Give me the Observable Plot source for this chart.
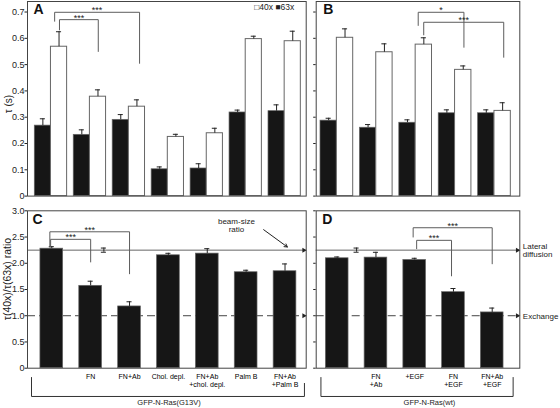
<!DOCTYPE html>
<html><head><meta charset="utf-8">
<script src="https://cdn.jsdelivr.net/npm/d3@7"></script>
<script src="https://cdn.jsdelivr.net/npm/@observablehq/plot@0.6"></script>
<style>
body{margin:0;background:#fff;}
#fig{position:relative;width:560px;height:408px;overflow:hidden;background:#fff;}
#fig>div{position:absolute;}
#fig svg{overflow:visible;display:block;}
</style></head><body>
<div id="fig">
  <div id="pA" style="left:0;top:0"></div>
  <div id="pB" style="left:310px;top:0"></div>
  <div id="pC" style="left:0;top:200px"></div>
  <div id="pD" style="left:310px;top:200px"></div>
</div>
<script>
// ---------- data ----------
const categoriesG13V = ["", "FN", "FN+Ab", "Chol. depl.", "FN+Ab\n+chol. depl.", "Palm B", "FN+Ab\n+Palm B"];
const categoriesWt = ["", "FN\n+Ab", "+EGF", "FN\n+EGF", "FN+Ab\n+EGF"];
const groupG13V = "GFP-N-Ras(G13V)";
const groupWt = "GFP-N-Ras(wt)";

// Panel A: tau (s) for GFP-N-Ras(G13V)
const tau63G13V    = [0.268, 0.233, 0.290, 0.102, 0.105, 0.318, 0.323];
const tau63G13VErr = [0.026, 0.019, 0.020, 0.009, 0.018, 0.009, 0.024];
const tau40G13V    = [0.568, 0.378, 0.340, 0.225, 0.239, 0.597, 0.589];
const tau40G13VErr = [0.057, 0.026, 0.026, 0.010, 0.019, 0.011, 0.038];

// Panel B: tau (s) for GFP-N-Ras(wt)
const tau63Wt    = [0.287, 0.260, 0.279, 0.315, 0.315];
const tau63WtErr = [0.009, 0.012, 0.011, 0.013, 0.013];
const tau40Wt    = [0.602, 0.547, 0.576, 0.480, 0.324];
const tau40WtErr = [0.034, 0.032, 0.026, 0.015, 0.031];

// Panel C / D: tau(40x)/tau(63x) ratio
const ratioG13V    = [2.278, 1.570, 1.177, 2.152, 2.184, 1.829, 1.848];
const ratioG13VErr = [0.038, 0.088, 0.089, 0.038, 0.094, 0.038, 0.139];
const ratioWt      = [2.095, 2.108, 2.063, 1.449, 1.063];
const ratioWtErr   = [0.025, 0.101, 0.032, 0.070, 0.083];

const beamRatio = 2.25, beamRatioErr = 0.04, exchangeRatio = 1.0;

const tauTicks = [0, 0.1, 0.2, 0.3, 0.4, 0.5, 0.6, 0.7];
const ratioTicks = [0, 0.5, 1.0, 1.5, 2.0, 2.5, 3.0];
const legendText = "\u25A140x \u25A063x";

// significance brackets (x in bar-slot units, y in value units)
const bracketsA = [
  {x1: 0.51, x2: 2.69, top: 0.699, y1: 0.665, y2: 0.505, label: "***"},
  {x1: 0.634, x2: 1.63, top: 0.671, y1: 0.632, y2: 0.550, label: "***"}
];
const bracketsB = [
  {x1: 2.48, x2: 3.64, top: 0.699, y1: 0.649, y2: 0.566, label: "*"},
  {x1: 2.62, x2: 4.65, top: 0.661, y1: 0.613, y2: 0.528, label: "***"}
];
const bracketsC = [
  {x1: -0.05, x2: 2.0, top: 2.60, y1: 2.31, y2: 1.80, label: "***"},
  {x1: -0.03, x2: 1.0, top: 2.456, y1: 2.31, y2: 2.025, label: "***"}
];
const bracketsD = [
  {x1: 1.96, x2: 4.0, top: 2.677, y1: 2.50, y2: 1.99, label: "***"},
  {x1: 2.05, x2: 2.95, top: 2.437, y1: 2.278, y2: 1.76, label: "***"}
];

// ---------- rendering ----------
const FONT = '"Liberation Sans", Arial, Helvetica, sans-serif';
const BLACK = "#161616", EDGE = "#666", INK = "#222", GRAY = "#5c5c5c", FRAME = "#444";
const TAU_BW = 0.415, RATIO_BW = 0.585, CAP = 0.065;
const fmt1 = d => d === 0 ? "0" : d3.format(".1f")(d);
const noText = () => "";

const bracketPoints = bs => bs.flatMap((b, k) => [
  {id: k, x: b.x1, y: b.y1}, {id: k, x: b.x1, y: b.top},
  {id: k, x: b.x2, y: b.top}, {id: k, x: b.x2, y: b.y2}
]);

function errMarks(rows, xAcc, vKey, eKey) {
  return [
    Plot.ruleX(rows, {x: xAcc, y1: vKey, y2: d => d[vKey] + d[eKey], stroke: INK, strokeWidth: 1}),
    Plot.ruleY(rows, {y: d => d[vKey] + d[eKey], x1: d => xAcc(d) - CAP, x2: d => xAcc(d) + CAP, stroke: INK, strokeWidth: 1})
  ];
}

function tauPanel(p) {
  const rows = p.cats.map((c, i) => ({i, v63: p.v63[i], e63: p.e63[i], v40: p.v40[i], e40: p.e40[i]}));
  const c63 = d => d.i + TAU_BW / 2, c40 = d => d.i + 1.5 * TAU_BW;
  return Plot.plot({
    width: p.width, height: 200,
    marginLeft: p.ml, marginRight: p.mr, marginTop: 1, marginBottom: 4.4,
    x: {type: "linear", domain: p.xDomain, axis: null},
    y: {type: "linear", domain: [0, 0.74]},
    style: {fontFamily: FONT, fontSize: "9px", background: "none", color: INK, overflow: "visible"},
    marks: [
      Plot.rect(rows, {x1: "i", x2: d => d.i + TAU_BW, y1: 0, y2: "v63", fill: BLACK, stroke: EDGE, strokeWidth: 0.7}),
      Plot.rect(rows, {x1: d => d.i + TAU_BW, x2: d => d.i + 2 * TAU_BW, y1: 0, y2: "v40", fill: "white", stroke: EDGE, strokeWidth: 1}),
      ...errMarks(rows, c63, "v63", "e63"),
      ...errMarks(rows, c40, "v40", "e40"),
      Plot.line(bracketPoints(p.brackets), {x: "x", y: "y", z: "id", stroke: GRAY, strokeWidth: 1}),
      Plot.text(p.brackets, {x: d => (d.x1 + d.x2) / 2, y: "top", text: "label", dy: -2, fontSize: 9, fill: INK}),
      Plot.axisY({ticks: tauTicks, tickSize: 2.5, tickPadding: 0.5, tickFormat: p.labels ? fmt1 : noText, label: null, fill: INK}),
      Plot.frame({stroke: FRAME}),
      Plot.text([p.letter], {text: d => d, frameAnchor: "top-left", dx: p.letterDx, dy: 3, lineAnchor: "top", textAnchor: "start", fontSize: 14, fontWeight: "bold", fill: "#111"}),
      ...(p.extra || [])
    ]
  });
}

function ratioPanel(p) {
  const rows = p.cats.map((c, i) => ({i, cat: c, v: p.v[i], e: p.e[i]}));
  const cx = d => d.i;
  const xMax = p.xDomain[1];
  return Plot.plot({
    width: p.width, height: 208,
    marginLeft: p.ml, marginRight: p.mr, marginTop: 10.3, marginBottom: 40.3,
    x: {type: "linear", domain: p.xDomain, axis: null},
    y: {type: "linear", domain: [0, 3]},
    style: {fontFamily: FONT, fontSize: "9px", background: "none", color: INK, overflow: "visible"},
    marks: [
      Plot.ruleY([beamRatio], {y: d => d, stroke: "#666", strokeWidth: 1}),
      Plot.ruleY([exchangeRatio], {y: d => d, stroke: "#444", strokeWidth: 1, strokeDasharray: "8,4"}),
      Plot.dot([beamRatio, exchangeRatio], {x: () => xMax, y: d => d, symbol: "triangle2", rotate: 90, r: 2.4, fill: "#222", stroke: "none", dx: -2.4}),
      Plot.rect(rows, {x1: d => d.i - RATIO_BW / 2, x2: d => d.i + RATIO_BW / 2, y1: 0, y2: "v", fill: BLACK, stroke: EDGE, strokeWidth: 0.7}),
      ...errMarks(rows, cx, "v", "e"),
      // beam-size ratio marker with its error
      Plot.ruleX([beamRatio], {x: () => p.beamX, y1: d => d - beamRatioErr, y2: d => d + beamRatioErr, stroke: INK}),
      Plot.ruleY([beamRatio - beamRatioErr, beamRatio + beamRatioErr], {y: d => d, x1: () => p.beamX - CAP, x2: () => p.beamX + CAP, stroke: INK}),
      Plot.line(bracketPoints(p.brackets), {x: "x", y: "y", z: "id", stroke: GRAY, strokeWidth: 1}),
      Plot.text(p.brackets, {x: d => (d.x1 + d.x2) / 2, y: "top", text: "label", dy: -2, fontSize: 9, fill: INK}),
      Plot.text(rows, {x: "i", y: () => 0, text: "cat", lineAnchor: "top", dy: 4.5, fontSize: 7, lineHeight: 1.2, fill: "#000"}),
      Plot.line(p.group.points, {x: "x", y: "y", stroke: "#333", strokeWidth: 1}),
      Plot.text([p.group], {x: "x", y: "y", text: "label", fontSize: 7.5, lineAnchor: "middle", fill: INK}),
      Plot.axisY({ticks: ratioTicks, tickSize: 2.5, tickPadding: 0.5, tickFormat: p.labels ? fmt1 : noText, label: null, fill: INK}),
      Plot.frame({stroke: FRAME}),
      Plot.text([p.letter], {text: d => d, frameAnchor: "top-left", dx: p.letterDx, dy: 3, lineAnchor: "top", textAnchor: "start", fontSize: 14, fontWeight: "bold", fill: "#111"}),
      ...(p.extra || [])
    ]
  });
}

const xA = [-0.187, 6.968], xB = [-0.109, 5.058], xC = [-0.625, 6.545], xD = [-0.542, 4.712];

document.getElementById("pA").append(tauPanel({
  cats: categoriesG13V, v63: tau63G13V, e63: tau63G13VErr, v40: tau40G13V, e40: tau40G13VErr,
  xDomain: xA, width: 310, ml: 27, mr: 4.3, brackets: bracketsA, letter: "A", letterDx: 6, labels: true,
  extra: [
    Plot.text(["\u03C4 (s)"], {text: d => d, x: () => xA[0], y: () => 0.35, rotate: -90, dx: -19, fontSize: 10, fill: INK}),
    Plot.text([legendText], {text: d => d, frameAnchor: "top-right", dx: -12, dy: 2.5, lineAnchor: "top", textAnchor: "end", fontSize: 8.5, fill: INK})
  ]
}));

document.getElementById("pB").append(tauPanel({
  cats: categoriesWt, v63: tau63Wt, e63: tau63WtErr, v40: tau40Wt, e40: tau40WtErr,
  xDomain: xB, width: 250, ml: 5.7, mr: 40.7, brackets: bracketsB, letter: "B", letterDx: 7, labels: false
}));

document.getElementById("pC").append(ratioPanel({
  cats: categoriesG13V, v: ratioG13V, e: ratioG13VErr, xDomain: xC, width: 310, ml: 27, mr: 4.3,
  brackets: bracketsC, letter: "C", letterDx: 5, labels: true, beamX: 1.34,
  group: {label: groupG13V, x: 3.015, y: -0.663,
          points: [{x: -0.522, y: -0.177}, {x: -0.522, y: -0.539}, {x: 6.50, y: -0.539}, {x: 6.50, y: -0.29}]},
  extra: [
    Plot.text(["\u03C4(40x)/\u03C4(63x) ratio"], {text: d => d, x: () => xC[0], y: () => 1.7, rotate: -90, dx: -20, fontSize: 10.5, fill: INK}),
    Plot.text(["beam-size\nratio"], {text: d => d, x: () => 4.75, y: () => 2.72, fontSize: 8, lineHeight: 1.05, lineAnchor: "middle", fill: INK}),
    Plot.arrow([{x1: 5.45, y1: 2.64, x2: 6.06, y2: 2.31}], {x1: "x1", y1: "y1", x2: "x2", y2: "y2", stroke: "#222", strokeWidth: 1, headLength: 5})
  ]
}));

document.getElementById("pD").append(ratioPanel({
  cats: categoriesWt, v: ratioWt, e: ratioWtErr, xDomain: xD, width: 250, ml: 5.7, mr: 40.7,
  brackets: bracketsD, letter: "D", letterDx: 6, labels: false, beamX: 0.5,
  group: {label: groupWt, x: 2.38, y: -0.663,
          points: [{x: -0.42, y: -0.177}, {x: -0.42, y: -0.539}, {x: 4.54, y: -0.539}, {x: 4.54, y: -0.177}]},
  extra: [
    Plot.text([{label: "Lateral\ndiffusion", y: beamRatio}, {label: "Exchange", y: exchangeRatio}],
      {text: "label", y: "y", frameAnchor: "right", dx: 3, textAnchor: "start", lineAnchor: "middle", fontSize: 8, lineHeight: 1.1, fill: INK})
  ]
}));
</script>
</body></html>
